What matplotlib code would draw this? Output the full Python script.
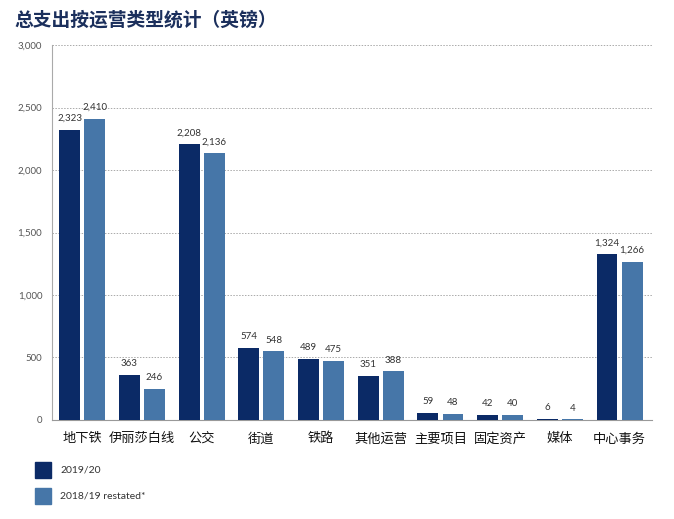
import matplotlib.pyplot as plt
from matplotlib.patches import Rectangle
import numpy as np

plt.rcParams['font.family'] = ['Noto Sans CJK SC', 'DejaVu Sans']

categories = ['地下铁', '伊丽莎白线', '公交', '街道', '铁路', '其他运营', '主要项目', '固定资产', '媒体', '中心事务']
values_1920 = [2323, 363, 2208, 574, 489, 351, 59, 42, 6, 1324]
values_1819 = [2410, 246, 2136, 548, 475, 388, 48, 40, 4, 1266]
series_names = ['2019/20', '2018/19 restated*']
title = '总支出按运营类型统计（英镑）'

DARK = '#0b2a66'
LIGHT = '#4676a8'
GREY = '#555555'
NUMFONT = ['Lato', 'DejaVu Sans']

fig = plt.figure(figsize=(6.74, 5.19), dpi=100)
ax = fig.add_axes([0.077, 0.191, 0.890, 0.722])

x = np.arange(len(categories))
w = 0.35
off = 0.21
b1 = ax.bar(x - off, values_1920, w, color=DARK, zorder=3)
b2 = ax.bar(x + off, values_1819, w, color=LIGHT, zorder=3)

for bars in (b1, b2):
    for rect in bars:
        v = rect.get_height()
        ax.text(rect.get_x() + rect.get_width() / 2, v + 55, f'{int(v):,}',
                ha='center', va='bottom', fontsize=7, color='#333333', family=NUMFONT)

ax.set_xlim(-0.51, 9.54)
ax.set_ylim(0, 3000)
ax.set_yticks(range(0, 3001, 500))
ax.set_yticklabels([f'{t:,}' for t in range(0, 3001, 500)], fontsize=7, color=GREY, family=NUMFONT)
ax.set_xticks(x)
ax.set_xticklabels(categories, fontsize=9.5, color='#111111', fontweight='medium')
ax.tick_params(axis='x', length=0, pad=9)
ax.tick_params(axis='y', length=0, pad=7)

ax.grid(axis='y', linestyle=(0, (1.5, 1.5)), color='#aaaaaa', linewidth=0.7, zorder=0)
for s in ('top', 'right'):
    ax.spines[s].set_visible(False)
ax.spines['left'].set_color('#aaaaaa')
ax.spines['bottom'].set_color('#999999')

fig.text(0.022, 0.961, title, fontsize=13.5, fontweight='bold', color='#1b2f5c', va='center')

# legend squares drawn by hand to match the layout
for i, (name, c) in enumerate(zip(series_names, (DARK, LIGHT))):
    yb = 0.079 - i * 0.05
    fig.patches.append(Rectangle((0.052, yb), 0.023, 0.031, transform=fig.transFigure,
                                 color=c, figure=fig))
    fig.text(0.089, yb + 0.015, name, fontsize=7.5, color='#333333', va='center', family=NUMFONT)

fig.savefig('out.png', dpi=100)
